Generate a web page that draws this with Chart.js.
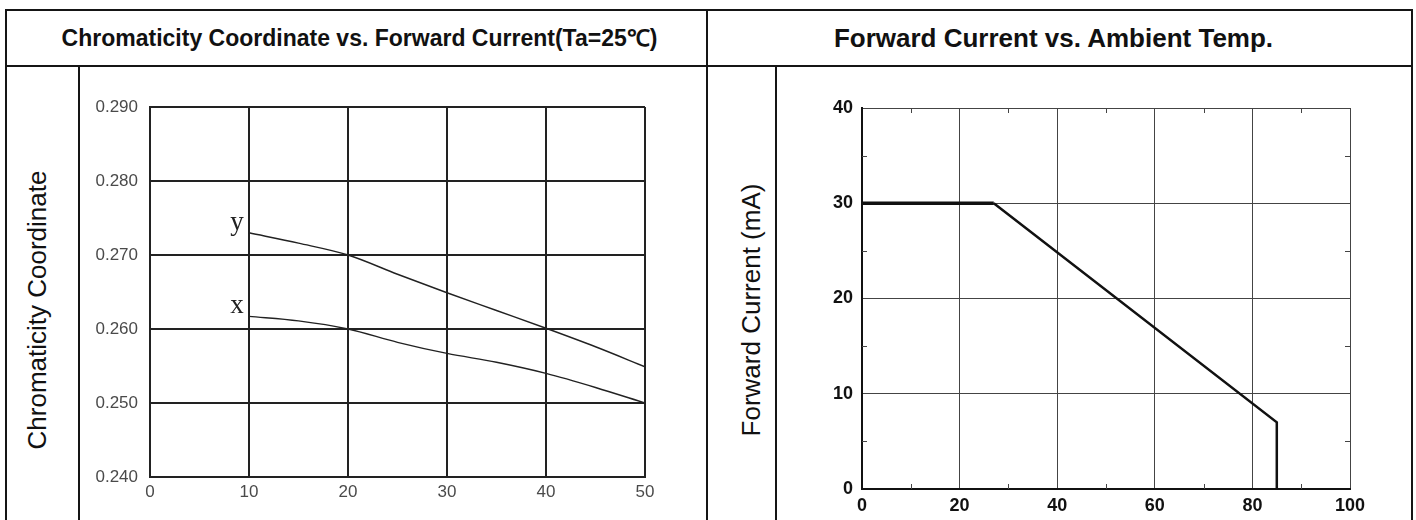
<!DOCTYPE html>
<html>
<head>
<meta charset="utf-8">
<title>LED characteristic curves</title>
<script src="https://cdn.jsdelivr.net/npm/chart.js@4.4.1/dist/chart.umd.min.js"></script>
<style>
  html, body { margin: 0; padding: 0; background: #fff; }
  body { width: 1416px; height: 520px; position: relative; overflow: hidden; font-family: "Liberation Sans", Arial, sans-serif; color: #111; }
  .rule { position: absolute; background: #151515; }
  .head { position: absolute; top: 11px; height: 54px; line-height: 54px; text-align: center; font-weight: bold; white-space: nowrap; }
  .side { position: absolute; width: 400px; height: 30px; line-height: 30px; text-align: center; font-size: 26px; white-space: nowrap; transform: rotate(-90deg); }
  canvas { position: absolute; }
</style>
</head>
<body>
<!-- table frame -->
<div class="rule" style="left:5px; top:9px; width:1408px; height:2px;"></div>
<div class="rule" style="left:5px; top:65px; width:1408px; height:2px;"></div>
<div class="rule" style="left:5px; top:9px; width:2px; height:520px;"></div>
<div class="rule" style="left:706px; top:9px; width:2px; height:520px;"></div>
<div class="rule" style="left:1411px; top:9px; width:2px; height:520px;"></div>
<div class="rule" style="left:78px; top:65px; width:2px; height:460px;"></div>
<div class="rule" style="left:775px; top:65px; width:2px; height:460px;"></div>

<div class="head" style="left:7px; width:705px; font-size:23px;">Chromaticity Coordinate vs. Forward Current(Ta=25℃)</div>
<div class="head" style="left:702px; width:703px; font-size:26px;">Forward Current vs. Ambient Temp.</div>

<div class="side" style="left:-163px; top:295px;">Chromaticity Coordinate</div>
<div class="side" style="left:551px; top:295px;">Forward Current (mA)</div>

<canvas id="chromaChart" width="626" height="452" style="left:80px; top:68px; width:626px; height:452px;"></canvas>
<canvas id="deratingChart" width="632" height="452" style="left:778px; top:68px; width:632px; height:452px;"></canvas>

<script>
// left chart: chromaticity vs forward current (mA)
const currentMa = [10, 15, 20, 25, 30, 35, 40, 45, 50];
const chromaX = [0.2617, 0.2611, 0.2600, 0.2582, 0.2567, 0.2555, 0.2540, 0.2521, 0.2500];
const chromaY = [0.2730, 0.2716, 0.2700, 0.2674, 0.2649, 0.2625, 0.2601, 0.2576, 0.2549];
const chromaTicks = [0.24, 0.25, 0.26, 0.27, 0.28, 0.29];
const currentTicks = [0, 10, 20, 30, 40, 50];

// right chart: derating curve
const ambientTemp = [0, 27, 85, 85];
const forwardCurrent = [30, 30, 7, 0];
const tempTicks = [0, 20, 40, 60, 80, 100];
const currentMaTicks = [0, 10, 20, 30, 40];
const tempMinor = [10, 30, 50, 70, 90];
const currentMinor = [5, 15, 25, 35];

const FONT = "'Liberation Sans', Arial, sans-serif";

function toPoints(xs, ys) {
  return xs.map((x, i) => ({ x: x, y: ys[i] }));
}

function fixedTicks(values) {
  return (scale) => {
    scale.ticks = values.map((v) => ({ value: v }));
  };
}

// writes the series name ("x", "y") just left of the first point
const seriesTags = {
  id: "seriesTags",
  afterDatasetsDraw(chart) {
    const ctx = chart.ctx;
    ctx.save();
    ctx.font = "27px 'Liberation Serif', 'Times New Roman', serif";
    ctx.fillStyle = "#222";
    ctx.textAlign = "center";
    ctx.textBaseline = "alphabetic";
    chart.data.datasets.forEach((ds, i) => {
      const first = chart.getDatasetMeta(i).data[0];
      if (!first) return;
      ctx.fillText(ds.label, first.x - 12, first.y - 3);
    });
    ctx.restore();
  },
};

// small inward tick marks on all four edges of the plot frame
const minorTicks = {
  id: "minorTicks",
  afterDraw(chart) {
    const { ctx, chartArea: a, scales } = chart;
    const len = 5;
    ctx.save();
    ctx.strokeStyle = "#444";
    ctx.lineWidth = 1;
    ctx.beginPath();
    tempMinor.forEach((v) => {
      const px = Math.round(scales.x.getPixelForValue(v)) + 0.5;
      ctx.moveTo(px, a.top);
      ctx.lineTo(px, a.top + len);
      ctx.moveTo(px, a.bottom);
      ctx.lineTo(px, a.bottom - len);
    });
    currentMinor.forEach((v) => {
      const py = Math.round(scales.y.getPixelForValue(v)) + 0.5;
      ctx.moveTo(a.left, py);
      ctx.lineTo(a.left + len, py);
      ctx.moveTo(a.right, py);
      ctx.lineTo(a.right - len, py);
    });
    ctx.stroke();
    ctx.restore();
  },
};

new Chart(document.getElementById("chromaChart"), {
  type: "scatter",
  data: {
    datasets: [
      {
        label: "y",
        data: toPoints(currentMa, chromaY),
        showLine: true,
        borderColor: "#222",
        borderWidth: 1.4,
        pointRadius: 0,
        cubicInterpolationMode: "monotone",
      },
      {
        label: "x",
        data: toPoints(currentMa, chromaX),
        showLine: true,
        borderColor: "#222",
        borderWidth: 1.4,
        pointRadius: 0,
        cubicInterpolationMode: "monotone",
      },
    ],
  },
  options: {
    responsive: false,
    animation: false,
    layout: { padding: { left: 0, top: 39, right: 61, bottom: 0 } },
    plugins: { legend: { display: false }, tooltip: { enabled: false } },
    scales: {
      x: {
        type: "linear",
        min: 0,
        max: 50,
        afterBuildTicks: fixedTicks(currentTicks),
        afterFit: (s) => { s.height = 43; },
        grid: { color: "#222", lineWidth: 2, drawTicks: false },
        border: { display: true, color: "#222", width: 2 },
        ticks: { color: "#4a4a4a", padding: 5, font: { family: FONT, size: 17 } },
      },
      y: {
        type: "linear",
        min: 0.24,
        max: 0.29,
        afterBuildTicks: fixedTicks(chromaTicks),
        afterFit: (s) => { s.width = 70; },
        grid: { color: "#222", lineWidth: 2, drawTicks: false },
        border: { display: true, color: "#222", width: 2 },
        ticks: {
          color: "#4a4a4a",
          padding: 12,
          font: { family: FONT, size: 17 },
          callback: (v) => Number(v).toFixed(3),
        },
      },
    },
  },
  plugins: [seriesTags],
});

new Chart(document.getElementById("deratingChart"), {
  type: "scatter",
  data: {
    datasets: [
      {
        label: "Forward Current",
        data: toPoints(ambientTemp, forwardCurrent),
        showLine: true,
        borderColor: "#111",
        borderWidth: 2.5,
        pointRadius: 0,
        segment: {
          borderWidth: (c) => (c.p0DataIndex === 0 ? 3.5 : 2.5),
        },
      },
    ],
  },
  options: {
    responsive: false,
    animation: false,
    layout: { padding: { left: 0, top: 40, right: 60, bottom: 0 } },
    plugins: { legend: { display: false }, tooltip: { enabled: false } },
    scales: {
      x: {
        type: "linear",
        min: 0,
        max: 100,
        afterBuildTicks: fixedTicks(tempTicks),
        afterFit: (s) => { s.height = 31; },
        grid: { color: "#444", lineWidth: 1, drawTicks: false },
        border: { display: true, color: "#111", width: 2 },
        ticks: { color: "#111", padding: 6, font: { family: FONT, size: 18, weight: "bold" } },
      },
      y: {
        type: "linear",
        min: 0,
        max: 40,
        afterBuildTicks: fixedTicks(currentMaTicks),
        afterFit: (s) => { s.width = 84; },
        grid: { color: "#444", lineWidth: 1, drawTicks: false },
        border: { display: true, color: "#111", width: 2 },
        ticks: { color: "#111", padding: 9, font: { family: FONT, size: 18, weight: "bold" } },
      },
    },
  },
  plugins: [minorTicks],
});
</script>
</body>
</html>
